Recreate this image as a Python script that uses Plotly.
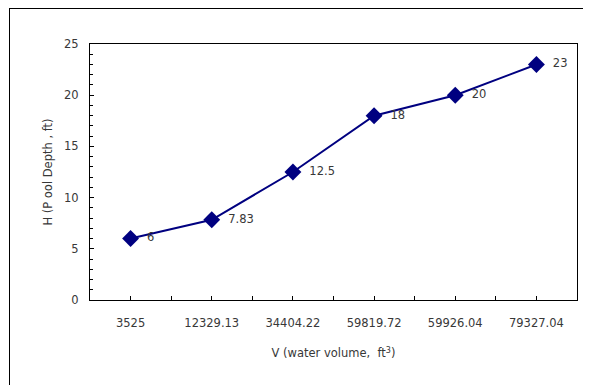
import plotly.graph_objects as go

categories = ["3525", "12329.13", "34404.22", "59819.72", "59926.04", "79327.04"]
depth = [6, 7.83, 12.5, 18, 20, 23]
labels = ["6", "7.83", "12.5", "18", "20", "23"]

xs = list(range(len(categories)))
boundaries = [i - 0.5 for i in range(len(categories) + 1)]

FONT = "DejaVu Sans, Liberation Sans, Arial"
TXT = "#383838"

fig = go.Figure()
fig.add_trace(go.Scatter(
    x=xs, y=depth, mode="lines+markers+text",
    text=["  " + t for t in labels], textposition="middle right",
    textfont=dict(family=FONT, size=11.5, color=TXT),
    line=dict(color="#000080", width=2),
    marker=dict(symbol="diamond", size=13, color="#000080"),
    cliponaxis=False, showlegend=False,
))

# page body has an 8px margin, so figure is sized/offset accordingly
W, H = 583, 377
L, R, T, B = 82, 14, 36, 85
PW, PH = W - L - R, H - T - B
fx = lambda px: (px - L) / PW
fy = lambda py: (H - B - py) / PH

fig.update_layout(
    width=W, height=H,
    margin=dict(l=L, r=R, t=T, b=B),
    paper_bgcolor="white", plot_bgcolor="white",
    font=dict(family=FONT, size=11.5, color=TXT),
    xaxis=dict(
        range=[-0.5, len(categories) - 0.5],
        tickmode="array", tickvals=xs, ticktext=categories,
        ticks="inside", ticklen=4, tickcolor="black",
        showline=True, linecolor="black", linewidth=1, mirror=True,
        showgrid=False, zeroline=False,
        ticklabelstandoff=12,
        minor=dict(tickmode="array", tickvals=boundaries, ticks="inside", ticklen=4, tickcolor="black"),
        title=dict(text="V (water volume,  ft<sup>3</sup>)", standoff=20,
                   font=dict(family=FONT, size=11.5, color=TXT)),
    ),
    yaxis=dict(
        range=[0, 25], dtick=5,
        ticks="inside", ticklen=4, tickcolor="black",
        showline=True, linecolor="black", linewidth=1, mirror=True,
        showgrid=False, zeroline=False,
        ticklabelstandoff=8,
        minor=dict(dtick=1, ticks="inside", ticklen=3, tickcolor="black"),
        title=dict(text="H (P ool Depth , ft)", standoff=9,
                   font=dict(family=FONT, size=11.5, color=TXT)),
    ),
    shapes=[
        dict(type="line", xref="paper", yref="paper",
             x0=fx(1), x1=fx(W + 10), y0=fy(0.5), y1=fy(0.5),
             line=dict(color="black", width=1)),
        dict(type="line", xref="paper", yref="paper",
             x0=fx(1.5), x1=fx(1.5), y0=fy(0), y1=fy(H + 10),
             line=dict(color="black", width=1)),
    ],
)

fig.write_html("out.html")
